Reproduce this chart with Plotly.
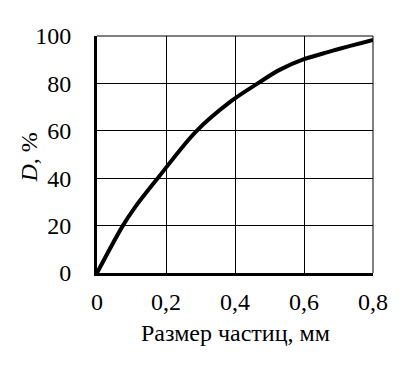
import plotly.graph_objects as go

size_mm = [0, 0.075, 0.109, 0.176, 0.2875, 0.384, 0.466, 0.529, 0.6, 0.674, 0.8]
d_pct = [0, 20, 27.5, 40, 59.8, 72, 80, 85.7, 90.2, 93.4, 98.3]

x_ticks = [0, 0.2, 0.4, 0.6, 0.8]
x_ticktext = ["0", "0,2", "0,4", "0,6", "0,8"]
y_ticks = [0, 20, 40, 60, 80, 100]
y_ticktext = ["0", "20", "40", "60", "80", "100"]

x_title = "Размер частиц, мм"
y_title = "<i>D</i>, %"

font = "Liberation Serif"
tickfont = dict(family=font, size=24, color="black")

fig = go.Figure()
fig.add_trace(go.Scatter(x=size_mm, y=d_pct, mode="lines",
                         line=dict(color="black", width=4, shape="spline", smoothing=1.0),
                         cliponaxis=False, showlegend=False))

fig.update_layout(
    width=397, height=359,
    margin=dict(l=89, r=32, t=28, b=94),
    paper_bgcolor="white", plot_bgcolor="white",
    font=dict(family=font, size=24, color="black"),
    xaxis=dict(range=[0, 0.8], tickvals=x_ticks, ticktext=x_ticktext, tickfont=tickfont,
               showgrid=True, gridcolor="black", gridwidth=1, automargin=False,
               zeroline=False, showline=True, linecolor="black", linewidth=3,
               ticks="outside", ticklen=5, tickcolor="rgba(0,0,0,0)"),
    yaxis=dict(range=[0, 100], tickvals=y_ticks, ticktext=y_ticktext, tickfont=tickfont,
               showgrid=True, gridcolor="black", gridwidth=1, automargin=False,
               zeroline=False, showline=True, linecolor="black", linewidth=3,
               ticks="outside", ticklen=18, tickcolor="rgba(0,0,0,0)"),
)
fig.add_annotation(text=x_title, xref="paper", yref="paper", x=0.5, y=0,
                   xanchor="center", yanchor="middle", yshift=-60, showarrow=False,
                   font=dict(family=font, size=24, color="black"))
fig.add_annotation(text=y_title, xref="paper", yref="paper", x=0, y=0.5,
                   xanchor="center", yanchor="middle", xshift=-69, yshift=-3,
                   textangle=-90, showarrow=False,
                   font=dict(family=font, size=24, color="black"))
# right and top border lines
fig.add_shape(type="line", xref="paper", yref="paper", x0=1, x1=1, y0=0, y1=1,
              line=dict(color="black", width=1))
fig.add_shape(type="line", xref="paper", yref="paper", x0=0, x1=1, y0=1, y1=1,
              line=dict(color="black", width=1))

fig.write_html("out.html")
